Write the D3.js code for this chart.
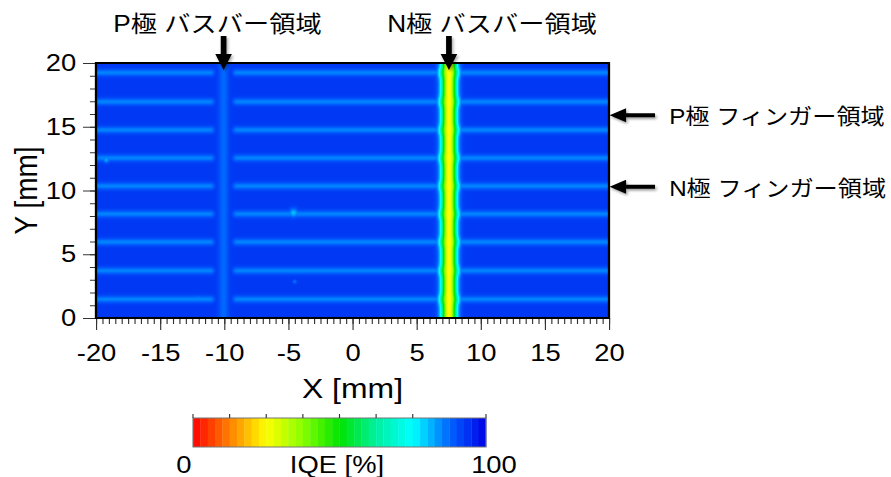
<!DOCTYPE html>
<html>
<head>
<meta charset="utf-8">
<script src="https://cdn.jsdelivr.net/npm/d3@7"></script>
<style>
  html, body { margin: 0; padding: 0; background: #fff; }
  svg { display: block; }
  text { font-family: "Liberation Sans", Arial, "Noto Sans CJK JP", sans-serif; fill: #000; }
</style>
</head>
<body>
<div id="chart"></div>
<script>
// ---- data ----
const xDomain = [-20, 20];                       // X [mm]
const yDomain = [0, 20];                         // Y [mm]
const xMajorTicks = [-20, -15, -10, -5, 0, 5, 10, 15, 20];
const yMajorTicks = [0, 5, 10, 15, 20];
const xMinorStep = 0.5;
const yMinorStep = 1;

const fingerY = [1.47, 3.71, 5.96, 8.16, 10.35, 12.55, 14.75, 16.96, 19.24]; // finger centre lines [mm]
const fingerHalfWidth = 0.28;                    // [mm]
const fingerIQE = 85;                            // [%]
const baseIQE = 93;                              // [%] cell area between electrodes

const busbarNames = ["P", "N"];
const busbarX = [-10.05, 7.52];                  // busbar centre lines [mm]
const busbarIQE = [87, 25];                      // [%] at busbar centre
const busbarHalfWidth = [0.38, 0.58];            // [mm]
const fingerGapHalfWidth = 0.8;                  // fingers are interrupted around the P busbar [mm]

// small local spots in the IQE map
const spotX = [-4.6, -19.2, -4.5, 1.3, -12.0];
const spotY = [8.24, 12.4, 2.85, 8.2, 1.6];
const spotIQE = [80, 82, 86, 85, 86];
const spotR = [0.35, 0.25, 0.15, 0.2, 0.2];

const busbarLabels = ["P極 バスバー領域", "N極 バスバー領域"];
const fingerLabels = ["P極 フィンガー領域", "N極 フィンガー領域"];
const fingerLabelY = [15.9, 10.3];               // [mm]

const cbDomain = [0, 100];
const cbTickValues = [0, 12.5, 25, 37.5, 50, 62.5, 75, 100];
const cbStops = [0, 12.5, 25, 37.5, 50, 62.5, 75, 87.5, 100];
const cbColors = ["#ff0000", "#ff8000", "#ffff00", "#88ff00", "#00e400", "#00f0a0", "#00ffff", "#0064ff", "#0000e6"];
const cbSteps = 40;
const cbLabel = "IQE [%]";
const xTitle = "X [mm]";
const yTitle = "Y [mm]";

// ---- layout (horizontal units are squeezed by K to get the wide lettering) ----
const W = 891, H = 477, K = 1.14, VW = W / K;
const plot = { left: 84.2, right: 534.2, top: 63, bottom: 318 };

const svg = d3.select("#chart").append("svg")
  .attr("width", W).attr("height", H)
  .attr("viewBox", `0 0 ${VW} ${H}`)
  .attr("preserveAspectRatio", "none");

const defs = svg.append("defs");
const shadow = defs.append("filter").attr("id", "shade")
  .attr("x", "-30%").attr("y", "-30%").attr("width", "160%").attr("height", "160%");
shadow.append("feDropShadow").attr("dx", 1.2).attr("dy", 2).attr("stdDeviation", 1.3)
  .attr("flood-color", "#000").attr("flood-opacity", 0.35);

const x = d3.scaleLinear().domain(xDomain).range([plot.left, plot.right]);
const y = d3.scaleLinear().domain(yDomain).range([plot.bottom, plot.top]);
const color = d3.scaleLinear().domain(cbStops).range(cbColors)
  .interpolate(d3.interpolateRgb).clamp(true);

// ---- IQE field ----
function iqeAt(px, py) {
  let v = baseIQE;
  const gapDx = Math.abs(px - busbarX[0]) / fingerGapHalfWidth;
  const gap = 1 - Math.exp(-Math.pow(gapDx, 6));
  let bulge = 0;
  for (const fy of fingerY) {
    const d = (py - fy) / fingerHalfWidth;
    const g = Math.exp(-d * d);
    v = Math.min(v, baseIQE - (baseIQE - fingerIQE) * g * gap);
    bulge = Math.max(bulge, Math.exp(-Math.pow((py - fy) / 0.4, 2)));
  }
  // P busbar
  {
    const d = (px - busbarX[0]) / busbarHalfWidth[0];
    v = Math.min(v, baseIQE - (baseIQE - busbarIQE[0]) * Math.exp(-d * d));
  }
  // N busbar, slightly wider where the fingers join it
  {
    const w = busbarHalfWidth[1] + 0.09 * bulge;
    const d = Math.abs(px - busbarX[1]) / w;
    v = Math.min(v, baseIQE - (baseIQE - busbarIQE[1]) * Math.exp(-Math.pow(d, 2.2)));
  }
  for (let i = 0; i < spotX.length; i++) {
    const dx = (px - spotX[i]) / spotR[i], dy = (py - spotY[i]) / spotR[i];
    v = Math.min(v, baseIQE - (baseIQE - spotIQE[i]) * Math.exp(-(dx * dx + dy * dy)));
  }
  return v;
}

// raster cells at device pixel size
const cw = Math.round((plot.right - plot.left) * K), ch = plot.bottom - plot.top;
const xc = d3.scaleLinear().domain(xDomain).range([0, cw]);
const yc = d3.scaleLinear().domain(yDomain).range([ch, 0]);
const canvas = document.createElement("canvas");
canvas.width = cw; canvas.height = ch;
const ctx = canvas.getContext("2d");
const img = ctx.createImageData(cw, ch);
for (let r = 0; r < ch; r++) {
  const dy = yc.invert(r + 0.5);
  for (let c = 0; c < cw; c++) {
    const dx = xc.invert(c + 0.5);
    const col = d3.rgb(color(iqeAt(dx, dy)));
    const k = (r * cw + c) * 4;
    img.data[k] = col.r; img.data[k + 1] = col.g; img.data[k + 2] = col.b; img.data[k + 3] = 255;
  }
}
ctx.putImageData(img, 0, 0);

svg.append("image")
  .attr("x", plot.left).attr("y", plot.top)
  .attr("width", plot.right - plot.left).attr("height", ch)
  .attr("preserveAspectRatio", "none")
  .attr("href", canvas.toDataURL());

// ---- axes ----
const xMinor = d3.range(xDomain[0], xDomain[1] + 1e-9, xMinorStep);
const yMinor = d3.range(yDomain[0], yDomain[1] + 1e-9, yMinorStep);
const plain = d => String(d);

function styleAxis(g) {
  g.select(".domain").remove();
  g.selectAll("line").attr("stroke", "#333").attr("stroke-width", 1);
}

svg.append("g").attr("transform", `translate(0,${plot.bottom})`)
  .call(d3.axisBottom(x).tickValues(xMinor).tickSize(6).tickFormat(""))
  .call(styleAxis);
svg.append("g").attr("transform", `translate(0,${plot.bottom})`)
  .call(d3.axisBottom(x).tickValues(xMajorTicks).tickSize(12).tickPadding(14).tickFormat(plain))
  .call(styleAxis)
  .call(g => g.selectAll("text").attr("font-size", 24).attr("fill", "#000"));

svg.append("g").attr("transform", `translate(${plot.left},0)`)
  .call(d3.axisLeft(y).tickValues(yMinor).tickSize(5.3).tickFormat(""))
  .call(styleAxis);
svg.append("g").attr("transform", `translate(${plot.left},0)`)
  .call(d3.axisLeft(y).tickValues(yMajorTicks).tickSize(11.4).tickPadding(6).tickFormat(plain))
  .call(styleAxis)
  .call(g => g.selectAll("text").attr("font-size", 24).attr("fill", "#000"));

// plot frame
svg.append("rect")
  .attr("x", plot.left).attr("y", plot.top)
  .attr("width", plot.right - plot.left).attr("height", plot.bottom - plot.top)
  .attr("fill", "none").attr("stroke", "#000").attr("stroke-width", 2);

// axis titles
svg.append("text")
  .attr("x", (plot.left + plot.right) / 2).attr("y", 398)
  .attr("text-anchor", "middle").attr("font-size", 28).text(xTitle);
svg.append("text")
  .attr("transform", `translate(32.5,${(plot.top + plot.bottom) / 2}) rotate(-90)`)
  .attr("text-anchor", "middle").attr("font-size", 28).text(yTitle);

// ---- annotations ----
const arrows = svg.append("g").attr("filter", "url(#shade)");

// busbar arrows from the top
const topLabelX = [190.8, 431.6];
busbarX.forEach((bx, i) => {
  const cx = x(bx);
  arrows.append("path")
    .attr("d", `M${cx - 2.5},36 L${cx + 2.5},36 L${cx + 2.5},54 L${cx + 7.3},54 L${cx},70 L${cx - 7.3},54 L${cx - 2.5},54 Z`)
    .attr("fill", "#000");
  svg.append("text")
    .attr("x", topLabelX[i]).attr("y", 32)
    .attr("text-anchor", "middle").attr("font-size", 23)
    .text(busbarLabels[i]);
});

// finger arrows from the right
fingerLabelY.forEach((fy, i) => {
  const cy = y(fy), tip = plot.right + 0.5;
  arrows.append("path")
    .attr("d", `M${tip},${cy} L${tip + 14.5},${cy - 7} L${tip + 14.5},${cy - 2} L${574.6},${cy - 2} L${574.6},${cy + 2} L${tip + 14.5},${cy + 2} L${tip + 14.5},${cy + 7} Z`)
    .attr("fill", "#000");
  svg.append("text")
    .attr("x", 587).attr("y", cy + 9)
    .attr("font-size", 21.2)
    .text(fingerLabels[i]);
});

// ---- colour bar ----
const cb = { left: 169.3, right: 426.3, top: 418, bottom: 447 };
const cbx = d3.scaleLinear().domain(cbDomain).range([cb.left, cb.right]);
const stepW = (cbDomain[1] - cbDomain[0]) / cbSteps;
svg.append("g").selectAll("rect")
  .data(d3.range(cbSteps))
  .join("rect")
  .attr("x", i => cbx(cbDomain[0] + i * stepW))
  .attr("y", cb.top)
  .attr("width", i => cbx(cbDomain[0] + (i + 1) * stepW) - cbx(cbDomain[0] + i * stepW) + 0.3)
  .attr("height", cb.bottom - cb.top)
  .attr("fill", i => color(cbDomain[0] + (i + 0.5) * stepW));
svg.append("rect")
  .attr("x", cb.left).attr("y", cb.top)
  .attr("width", cb.right - cb.left).attr("height", cb.bottom - cb.top)
  .attr("fill", "none").attr("stroke", "#777").attr("stroke-width", 1);
svg.append("g").selectAll("line")
  .data(cbTickValues)
  .join("line")
  .attr("x1", d => cbx(d)).attr("x2", d => cbx(d))
  .attr("y1", cb.top - 4).attr("y2", cb.top)
  .attr("stroke", "#333").attr("stroke-width", 1);

svg.append("text").attr("x", cbx(cbDomain[0]) - 8).attr("y", 473)
  .attr("text-anchor", "middle").attr("font-size", 24).text(cbDomain[0]);
svg.append("text").attr("x", cbx(cbDomain[1]) + 7).attr("y", 473)
  .attr("text-anchor", "middle").attr("font-size", 24).text(cbDomain[1]);
svg.append("text").attr("x", 295.6).attr("y", 473)
  .attr("text-anchor", "middle").attr("font-size", 24).text(cbLabel);
</script>
</body>
</html>
